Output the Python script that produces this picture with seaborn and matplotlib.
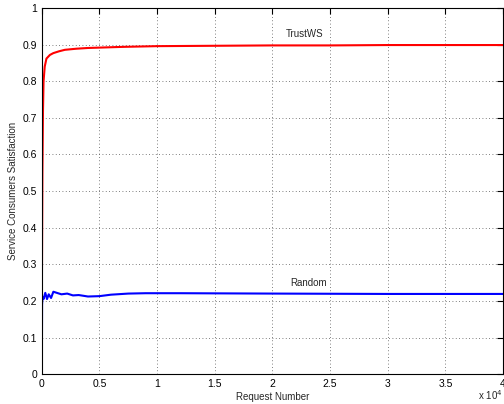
import numpy as np
import pandas as pd
import matplotlib
matplotlib.use("Agg")
import matplotlib.pyplot as plt
import seaborn as sns

# Request number and satisfaction values
trust_x = [0, 50, 100, 150, 250, 400, 700, 1000, 1500, 2000, 3000, 4000, 5000,
           7000, 10000, 15000, 20000, 25000, 30000, 35000, 40000]
trust_y = [0.20, 0.55, 0.72, 0.80, 0.84, 0.862, 0.872, 0.877, 0.882, 0.886, 0.889,
           0.891, 0.892, 0.894, 0.896, 0.897, 0.898, 0.898, 0.899, 0.899, 0.899]

random_x = [0, 20, 60, 150, 300, 450, 600, 800, 1000, 1300, 1700, 2200, 2700,
            3200, 4000, 5000, 6000, 7500, 9000, 12000, 20000, 30000, 40000]
random_y = [0.0, 0.19, 0.21, 0.205, 0.222, 0.205, 0.218, 0.208, 0.225, 0.222,
            0.218, 0.220, 0.215, 0.216, 0.212, 0.213, 0.217, 0.220, 0.221, 0.221,
            0.220, 0.219, 0.219]

x_ticks = [0, 5000, 10000, 15000, 20000, 25000, 30000, 35000, 40000]
x_tick_labels = ["0", "0.5", "1", "1.5", "2", "2.5", "3", "3.5", "4"]
y_ticks = [0, 0.1, 0.2, 0.3, 0.4, 0.5, 0.6, 0.7, 0.8, 0.9, 1]
y_tick_labels = ["0", "0.1", "0.2", "0.3", "0.4", "0.5", "0.6", "0.7", "0.8", "0.9", "1"]

sns.set_style("white")
plt.rcParams['font.family'] = ['Liberation Sans', 'DejaVu Sans']

df_trust = pd.DataFrame({"x": trust_x, "y": trust_y})
df_random = pd.DataFrame({"x": random_x, "y": random_y})

fig = plt.figure(figsize=(5.04, 4.04), dpi=100)
ax = fig.add_axes([0.083, 0.074, 0.915, 0.906])

sns.lineplot(data=df_trust, x="x", y="y", color="#ff0000", linewidth=1.5, ax=ax)
sns.lineplot(data=df_random, x="x", y="y", color="#0000ff", linewidth=1.5, ax=ax)

ax.set_xlim(0, 40000)
ax.set_ylim(0, 1)
ax.set_xticks(x_ticks)
ax.set_xticklabels(x_tick_labels)
ax.set_yticks(y_ticks)
ax.set_yticklabels(y_tick_labels)
ax.tick_params(direction="in", length=4, width=0.8, labelsize=7.5,
               top=True, right=True, colors="black")
ax.grid(True, linestyle=(0, (1, 3)), color="#555555", linewidth=0.6)
for s in ax.spines.values():
    s.set_color("black")
    s.set_linewidth(0.8)

ax.set_xlabel("Request Number", fontsize=7, labelpad=2)
ax.set_ylabel("Service Consumers Satisfaction", fontsize=7, labelpad=3)

ax.text(22800, 0.93, "TrustWS", fontsize=7, ha="center", va="center")
ax.text(23100, 0.25, "Random", fontsize=7, ha="center", va="center")
fig.text(0.998, 0.005, r"x 10$^4$", fontsize=7, ha="right", va="bottom")

fig.savefig("out.png", dpi=100)
